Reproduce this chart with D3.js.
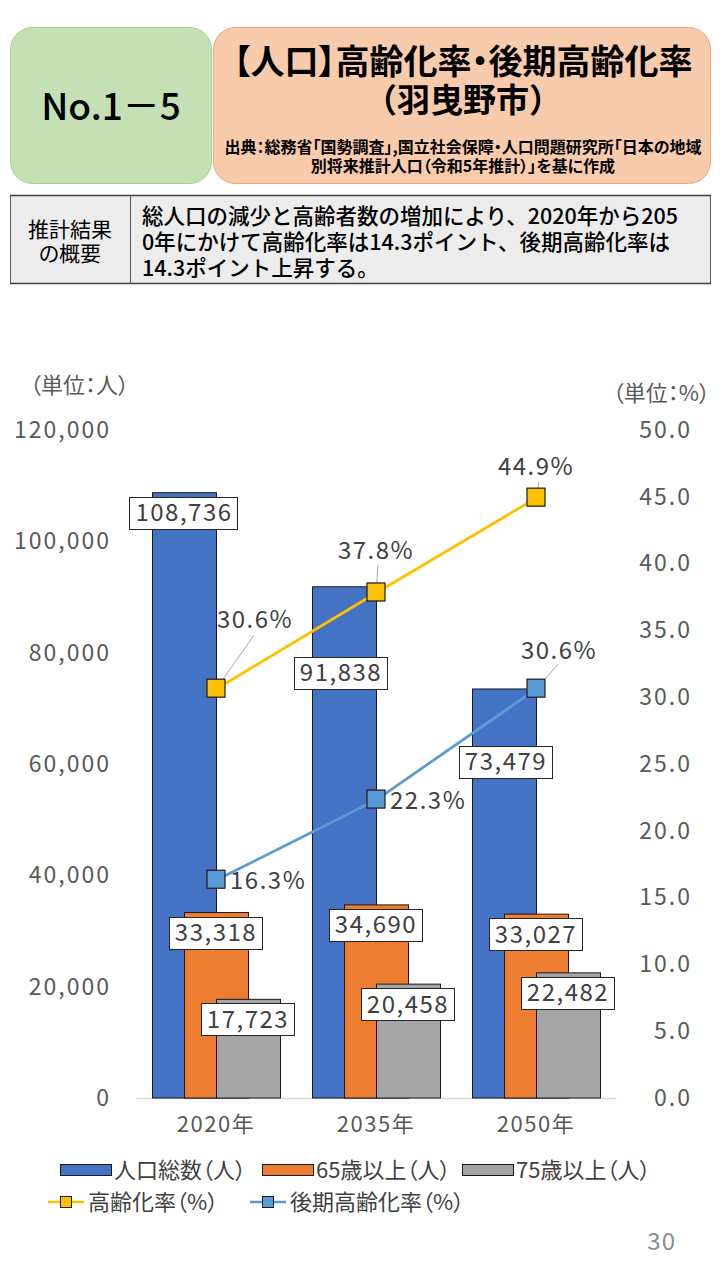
<!DOCTYPE html>
<html><head><meta charset="utf-8">
<script src="https://cdn.jsdelivr.net/npm/d3@7/dist/d3.min.js"></script>
<style>
html,body{margin:0;padding:0;background:#fff;}
svg text{font-family:"Noto Sans CJK JP","Noto Sans",sans-serif;font-feature-settings:"palt";}
svg text.np{font-feature-settings:normal;}
</style></head>
<body>
<svg id="c" width="720" height="1280"></svg>
<script>
// ---- data ----
const categories = ["2020年", "2035年", "2050年"];
const totalPop = [108736, 91838, 73479];
const pop65 = [33318, 34690, 33027];
const pop75 = [17723, 20458, 22482];
const agingRate = [30.6, 37.8, 44.9];
const lateAgingRate = [16.3, 22.3, 30.6];
const leftTicks = [0, 20000, 40000, 60000, 80000, 100000, 120000];
const rightTicks = [0, 5, 10, 15, 20, 25, 30, 35, 40, 45, 50];
const seriesNames = ["人口総数（人）", "65歳以上（人）", "75歳以上（人）", "高齢化率（%）", "後期高齢化率（%）"];

// ---- layout ----
const svg = d3.select("#c");
const TXT = "#404040", AX = "#595959";
const C = {blue:"#4472c4", orange:"#ed7d31", gray:"#a5a5a5", yellow:"#ffc000", lblue:"#5b9bd5"};

// header boxes
svg.append("rect").attr("x",10.5).attr("y",27.5).attr("width",201).attr("height",156).attr("rx",22)
  .attr("fill","#c5e0b4").attr("stroke","#a9d18e").attr("stroke-width",1);
svg.append("rect").attr("x",213.5).attr("y",27.5).attr("width",497).attr("height",156).attr("rx",22)
  .attr("fill","#f8cbad").attr("stroke","#f4a070").attr("stroke-width",1);
svg.append("text").attr("x",111).attr("y",120).attr("text-anchor","middle").attr("font-size",37)
  .attr("font-weight",500).attr("fill","#000").text("No.1－5");
svg.append("text").attr("x",463).attr("y",74).attr("text-anchor","middle").attr("font-size",34)
  .attr("font-weight",700).attr("fill","#000").text("【人口】高齢化率・後期高齢化率");
svg.append("text").attr("class","np").attr("x",463).attr("y",112).attr("text-anchor","middle").attr("font-size",33)
  .attr("font-weight",700).attr("fill","#000").text("（羽曳野市）");
svg.append("text").attr("x",463).attr("y",153).attr("text-anchor","middle").attr("font-size",16)
  .attr("font-weight",700).attr("fill","#000").text("出典：総務省「国勢調査」,国立社会保障・人口問題研究所「日本の地域");
svg.append("text").attr("x",463).attr("y",172).attr("text-anchor","middle").attr("font-size",16)
  .attr("font-weight",700).attr("fill","#000").text("別将来推計人口（令和5年推計）」を基に作成");

// summary table
svg.append("rect").attr("x",10.5).attr("y",195.5).attr("width",700).attr("height",88)
  .attr("fill","#ececec").attr("stroke","#595959").attr("stroke-width",1);
svg.append("line").attr("x1",10).attr("x2",711).attr("y1",195.5).attr("y2",195.5).attr("stroke","#404040").attr("stroke-width",1.5);
svg.append("line").attr("x1",10).attr("x2",711).attr("y1",283.5).attr("y2",283.5).attr("stroke","#404040").attr("stroke-width",1.5);
svg.append("line").attr("x1",130.5).attr("x2",130.5).attr("y1",195).attr("y2",284).attr("stroke","#595959");
svg.append("text").attr("x",70).attr("y",237).attr("text-anchor","middle").attr("font-size",21).attr("fill","#000").text("推計結果");
svg.append("text").attr("x",70).attr("y",261).attr("text-anchor","middle").attr("font-size",21).attr("fill","#000").text("の概要");
const summary = ["総人口の減少と高齢者数の増加により、2020年から205",
                 "0年にかけて高齢化率は14.3ポイント、後期高齢化率は",
                 "14.3ポイント上昇する。"];
summary.forEach((s,i)=>svg.append("text").attr("class","np").attr("x",142).attr("y",224+i*26).attr("font-size",21.5)
  .attr("font-weight",500).attr("fill","#000").text(s));

// ---- chart ----
const x = d3.scaleBand().domain(categories).range([136, 616]).padding(0);
const yL = d3.scaleLinear().domain([0, 120000]).range([1098, 430]);
const yR = d3.scaleLinear().domain([0, 50]).range([1098, 430]);
const bw = 64;
const fmt = d3.format(",");

// unit labels
svg.append("text").attr("x",30).attr("y",393).attr("font-size",22).attr("fill",AX).text("（単位：人）");
svg.append("text").attr("x",710).attr("y",401).attr("text-anchor","end").attr("font-size",22).attr("fill",AX).text("（単位：%）");

// axes
const axL = svg.append("g").attr("transform","translate(111,0)")
  .call(d3.axisLeft(yL).tickValues(leftTicks).tickFormat(fmt).tickSize(0).tickPadding(0));
axL.select(".domain").remove();
axL.selectAll("text").attr("font-size",23).attr("fill",AX).attr("letter-spacing",2)
  .attr("font-family","'Noto Sans CJK JP',sans-serif");
const axR = svg.append("g").attr("transform","translate(692,0)")
  .call(d3.axisLeft(yR).tickValues(rightTicks).tickFormat(d3.format(".1f")).tickSize(0).tickPadding(0));
axR.select(".domain").remove();
axR.selectAll("text").attr("font-size",23).attr("fill",AX).attr("letter-spacing",2)
  .attr("font-family","'Noto Sans CJK JP',sans-serif");
const axB = svg.append("g").attr("transform","translate(0,1098)")
  .call(d3.axisBottom(x).tickSize(0).tickPadding(18));
axB.select(".domain").attr("stroke","#d9d9d9").attr("stroke-width",1.5);
axB.selectAll("text").attr("font-size",22).attr("fill",AX).attr("letter-spacing",1.5)
  .attr("font-family","'Noto Sans CJK JP',sans-serif");

// bars
const barSeries = [
  {vals: totalPop, color: C.blue, off: -bw},
  {vals: pop65, color: C.orange, off: -bw/2},
  {vals: pop75, color: C.gray, off: 0}
];
const cx = c => x(c) + x.bandwidth()/2;
barSeries.forEach(s=>{
  svg.append("g").selectAll("rect").data(categories).join("rect")
    .attr("x",(c)=>cx(c)+s.off+0.5).attr("width",bw)
    .attr("y",(c,i)=>yL(s.vals[i])).attr("height",(c,i)=>yL(0)-yL(s.vals[i]))
    .attr("fill",s.color).attr("stroke","#1a1a1a").attr("stroke-width",1);
});

// lines
const lineSeries = [
  {vals: agingRate, color: C.yellow},
  {vals: lateAgingRate, color: C.lblue}
];
const lineGen = d3.line().x(d=>cx(d.c)).y(d=>yR(d.v));
lineSeries.forEach(s=>{
  const pts = categories.map((c,i)=>({c, v:s.vals[i]}));
  svg.append("path").attr("d",lineGen(pts)).attr("fill","none").attr("stroke",s.color).attr("stroke-width",2.8);
});

// leader lines for percent labels (drawn under markers)
const pctLayout = [
  [{dx:39,dy:-70,lead:[38,-54]},{dx:0,dy:-43,lead:[2,-28]},{dx:0,dy:-32,lead:[3,-16]}],
  [{dx:14,dy:0,anchor:"start"},{dx:14,dy:0,anchor:"start"},{dx:23,dy:-39,lead:[22,-25]}]
];
lineSeries.forEach((s,si)=>{
  categories.forEach((c,i)=>{
    const L = pctLayout[si][i];
    if(L.lead){
      svg.append("line").attr("x1",cx(c)).attr("y1",yR(s.vals[i]))
        .attr("x2",cx(c)+L.lead[0]).attr("y2",yR(s.vals[i])+L.lead[1])
        .attr("stroke","#a6a6a6").attr("stroke-width",1);
    }
  });
});

// markers
lineSeries.forEach(s=>{
  svg.append("g").selectAll("rect").data(categories).join("rect")
    .attr("x",c=>cx(c)-9).attr("y",(c,i)=>yR(s.vals[i])-10).attr("width",18).attr("height",18)
    .attr("fill",s.color).attr("stroke","#1a1a1a").attr("stroke-width",1.2);
});

// bar labels
const barLabelShift = [
  [[0,0],[-3,66],[2,53]],
  [[0,0],[0,0],[0,0]],
  [[0,0],[0,0],[0,0]]
];
barSeries.forEach((s,si)=>{
  categories.forEach((c,i)=>{
    const sh = barLabelShift[si][i];
    const lx = cx(c)+s.off+bw/2+sh[0];
    const ly = yL(s.vals[i])+20+sh[1];
    const g = svg.append("g");
    const t = g.append("text").attr("x",lx).attr("y",ly+8.5).attr("text-anchor","middle")
      .attr("font-size",24).attr("letter-spacing",1.5).attr("fill",TXT).text(fmt(s.vals[i]));
    const bb = t.node().getBBox();
    g.insert("rect","text").attr("x",Math.round(lx-bb.width/2-6)+0.5).attr("y",Math.round(ly-16)+0.5)
      .attr("width",Math.round(bb.width+11)).attr("height",32)
      .attr("fill","#fff").attr("stroke","#262626").attr("stroke-width",1);
  });
});

// percent labels
lineSeries.forEach((s,si)=>{
  categories.forEach((c,i)=>{
    const L = pctLayout[si][i];
    svg.append("text").attr("x",cx(c)+L.dx).attr("y",yR(s.vals[i])+L.dy+9)
      .attr("text-anchor",L.anchor||"middle").attr("font-size",24).attr("letter-spacing",1.5)
      .attr("fill",TXT).text(s.vals[i].toFixed(1)+"%");
  });
});

// legend
const leg = svg.append("g");
const swatchCols = [C.blue, C.orange, C.gray];
const legX1 = [60, 262, 462];
[0,1,2].forEach(i=>{
  leg.append("rect").attr("x",legX1[i]+0.5).attr("y",1164.5).attr("width",51).attr("height",11)
    .attr("fill",swatchCols[i]).attr("stroke","#1a1a1a").attr("stroke-width",1);
  leg.append("text").attr("x",legX1[i]+54).attr("y",1178).attr("font-size",22).attr("fill",TXT).text(seriesNames[i]);
});
const legX2 = [48, 250];
[3,4].forEach((k,j)=>{
  const col = j===0?C.yellow:C.lblue;
  leg.append("line").attr("x1",legX2[j]).attr("x2",legX2[j]+36).attr("y1",1202).attr("y2",1202)
    .attr("stroke",col).attr("stroke-width",2.5);
  leg.append("rect").attr("x",legX2[j]+12.5).attr("y",1196.5).attr("width",11).attr("height",11)
    .attr("fill",col).attr("stroke","#1a1a1a").attr("stroke-width",1);
  leg.append("text").attr("x",legX2[j]+40).attr("y",1210).attr("font-size",22).attr("fill",TXT).text(seriesNames[k]);
});

// page number
svg.append("text").attr("x",676).attr("y",1250).attr("text-anchor","end").attr("font-size",24)
  .attr("fill","#8c8c8c").attr("letter-spacing",1).text("30");
</script>
</body></html>
